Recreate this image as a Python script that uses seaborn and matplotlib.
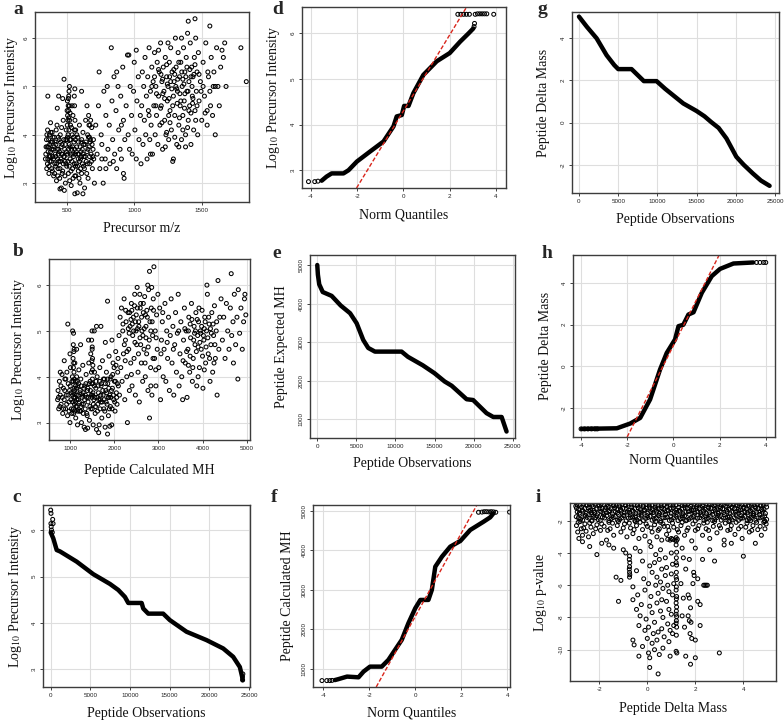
import matplotlib
matplotlib.use("Agg")
import pandas as pd
from matplotlib import pyplot as plt
import seaborn as sns

# ---------------- data ----------------
# a: precursor m/z vs log10 precursor intensity
a_points = [
    (345, 3.6), (350, 3.9), (352, 3.3), (358, 4.1), (360, 3.5), (365, 3.75), (368, 3.2), (372, 4.0), (375, 3.45),
    (380, 3.65), (383, 3.85), (388, 3.3), (392, 4.05), (395, 3.55), (400, 3.7), (403, 3.15), (408, 3.95), (412, 3.4),
    (415, 3.6), (420, 3.8), (424, 3.05), (428, 4.2), (432, 3.5), (436, 3.3), (440, 3.7), (444, 3.9), (448, 3.1),
    (452, 4.0), (455, 3.45), (460, 2.9), (462, 3.6), (466, 3.8), (470, 3.25), (474, 4.3), (478, 3.55), (482, 2.85),
    (485, 3.7), (490, 3.0), (493, 3.9), (496, 4.1), (500, 3.35), (503, 4.5), (505, 4.7), (507, 3.6), (510, 4.0),
    (512, 3.2), (515, 4.35), (518, 3.8), (520, 4.6), (522, 3.05), (525, 3.5), (528, 4.2), (530, 3.9), (533, 2.95),
    (536, 3.7), (540, 4.0), (543, 3.3), (546, 4.4), (550, 3.55), (553, 3.85), (556, 4.8), (560, 3.15), (563, 3.6),
    (566, 4.1), (570, 3.4), (574, 3.75), (578, 2.8), (582, 3.95), (586, 3.25), (590, 3.6), (594, 4.2), (598, 3.0),
    (602, 3.5), (606, 3.85), (610, 3.2), (615, 3.7), (620, 4.05), (624, 3.35), (628, 3.55), (632, 2.9), (636, 3.8),
    (640, 4.3), (645, 3.45), (650, 3.65), (655, 4.0), (658, 3.1), (662, 4.4), (666, 3.75), (670, 3.4), (675, 3.9),
    (680, 3.6), (685, 4.15), (690, 3.3), (695, 3.7), (700, 3.5),
    (342, 3.5), (347, 3.75), (353, 4.0), (357, 3.4), (362, 3.65), (366, 3.9), (370, 3.35), (374, 3.8), (378, 3.55),
    (382, 4.05), (386, 3.45), (390, 3.7), (394, 3.25), (398, 3.95), (402, 3.5), (406, 3.75), (410, 3.2), (414, 3.85),
    (418, 3.55), (422, 4.1), (426, 3.4), (430, 3.7), (434, 3.15), (438, 3.95), (442, 3.45), (446, 3.65), (450, 3.3),
    (454, 3.85), (458, 3.5), (462, 4.15), (466, 3.2), (470, 3.6), (474, 3.4), (478, 3.9), (482, 3.55), (486, 3.15),
    (490, 3.8), (494, 3.4), (498, 3.65), (502, 3.9), (504, 4.2), (506, 4.4), (508, 3.45), (511, 4.6), (513, 3.7),
    (516, 4.1), (519, 3.35), (521, 4.3), (524, 3.9), (527, 3.6), (531, 3.25), (535, 4.15), (539, 3.45), (543, 3.75),
    (547, 3.1), (551, 3.95), (555, 3.4), (559, 3.7), (563, 3.9), (567, 3.15), (571, 3.65), (575, 4.0), (579, 3.35),
    (583, 3.6), (587, 3.85), (591, 3.1), (595, 3.45), (599, 3.75), (603, 3.3), (607, 3.55), (611, 3.9), (616, 3.4),
    (621, 3.6), (626, 3.8), (631, 3.3), (637, 3.55), (643, 3.85), (648, 3.2), (653, 3.4), (657, 3.7), (661, 3.95),
    (665, 4.2), (669, 3.55), (673, 3.85), (677, 4.3), (683, 3.45), (688, 3.8), (693, 3.55), (698, 3.9),
    (509, 4.3), (512, 4.75), (514, 4.5), (517, 4.9), (558, 4.6), (561, 4.3), (557, 4.1),
    (480, 5.15), (430, 4.55), (520, 5.0), (560, 4.95), (610, 4.9), (470, 4.75), (650, 4.6), (620, 2.78),
    (560, 2.78), (450, 2.88), (440, 4.8), (360, 4.8), (380, 4.25), (355, 3.75), (372, 3.55), (395, 3.85),
    (418, 3.35), (438, 3.6), (458, 3.75), (488, 3.45), (505, 3.95), (525, 3.75), (545, 3.6), (565, 3.35),
    (585, 3.5), (605, 3.65), (525, 4.45), (540, 4.6), (515, 4.8), (672, 4.2), (668, 3.95),
    (705, 3.0), (715, 4.2), (725, 3.6), (735, 4.6), (740, 5.3), (745, 3.3), (755, 4.0), (760, 3.8), (770, 3.0),
    (775, 4.9), (785, 3.5), (790, 4.4), (800, 5.0), (805, 3.7), (815, 4.2), (820, 3.4), (830, 5.8), (835, 4.7),
    (840, 3.9), (850, 5.2), (855, 3.6), (865, 4.5), (870, 3.3), (880, 5.0), (885, 4.1), (895, 3.7), (900, 4.8),
    (905, 3.5), (915, 5.4), (920, 4.3), (925, 3.1), (930, 3.9), (940, 4.6), (950, 5.65), (955, 4.0), (965, 3.7),
    (970, 5.0), (980, 4.4), (985, 3.6), (995, 4.9), (1000, 5.5), (1005, 4.1), (1015, 3.5), (1020, 4.7),
    (1030, 5.2), (1035, 3.9), (1045, 4.4), (1050, 3.4), (920, 3.2), (960, 5.65), (1015, 5.75), (870, 5.3),
    (760, 3.5), (790, 3.3), (845, 3.45), (905, 4.2),
    (1055, 4.6), (1060, 5.3), (1065, 3.8), (1070, 5.0), (1075, 4.3), (1080, 5.6), (1085, 4.0), (1090, 4.8),
    (1095, 3.5), (1100, 5.2), (1105, 4.5), (1110, 5.8), (1115, 3.9), (1120, 4.9), (1125, 4.2), (1130, 5.4),
    (1135, 3.6), (1140, 5.1), (1145, 4.6), (1150, 5.7), (1155, 4.0), (1160, 5.0), (1165, 4.4), (1170, 5.5),
    (1175, 3.8), (1180, 4.8), (1185, 5.3), (1190, 4.2), (1195, 5.9), (1200, 4.6), (1205, 5.1), (1210, 3.7),
    (1215, 5.4), (1220, 4.9), (1225, 4.3), (1230, 5.6), (1235, 4.0), (1240, 5.2), (1245, 4.7), (1250, 5.0),
    (1255, 3.9), (1260, 5.5), (1265, 4.5), (1270, 5.8), (1275, 4.1), (1280, 5.3), (1285, 3.45), (1290, 4.8),
    (1295, 5.1), (1300, 4.4), (1305, 6.0), (1310, 5.4), (1315, 3.8), (1320, 4.9), (1325, 5.7), (1330, 4.2),
    (1335, 5.2), (1340, 4.6), (1345, 5.5), (1350, 3.9), (1355, 5.0), (1360, 4.4), (1365, 5.8), (1370, 4.7),
    (1375, 5.3), (1380, 4.0), (1385, 5.6), (1390, 4.9), (1395, 6.1), (1400, 4.3), (1405, 5.1), (1410, 4.6),
    (1415, 5.9), (1420, 3.8), (1425, 5.4), (1430, 4.8), (1435, 5.2), (1440, 4.1), (1445, 5.6), (1450, 4.5),
    (1455, 6.0), (1460, 4.9), (1465, 5.3), (1470, 4.0), (1475, 5.7), (1480, 4.7), (1490, 5.1), (1500, 4.3),
    (1510, 5.5), (1520, 4.8), (1530, 5.9), (1540, 4.5), (1550, 5.2), (1560, 4.9), (1570, 5.6), (1580, 4.4),
    (1590, 5.3), (1600, 4.0), (1610, 5.8), (1620, 5.0), (1630, 4.6), (1640, 5.4), (1650, 5.75), (1660, 5.6),
    (1680, 5.0), (1670, 5.9), (1450, 6.4), (1400, 6.35), (1560, 6.25), (1790, 5.8), (1830, 5.1), (1250, 5.9),
    (1350, 6.0), (1180, 5.75), (1120, 3.6), (1290, 3.5), (1230, 3.75), (1380, 3.75), (1330, 3.75), (1600, 5.0),
    (1540, 4.2), (1245, 5.05), (1262, 5.2), (1278, 4.95), (1293, 5.35), (1308, 5.0), (1322, 5.15), (1338, 4.85),
    (1352, 5.3), (1368, 5.05), (1382, 5.2), (1398, 4.9), (1412, 5.35), (1428, 5.0), (1442, 5.25), (1258, 4.75),
    (1318, 4.65), (1372, 4.55), (1432, 4.65), (1212, 4.85), (1198, 5.25),
    (1150, 5.2), (1165, 4.85), (1180, 5.35), (1195, 4.55), (1210, 5.15), (1225, 4.75), (1240, 5.45), (1255, 4.4),
    (1270, 5.1), (1285, 4.6), (1300, 5.25), (1315, 4.95), (1330, 5.5), (1345, 4.7), (1360, 5.15), (1375, 4.85),
    (1390, 5.4), (1405, 4.5), (1420, 5.2), (1435, 4.75), (1450, 5.45), (1465, 4.6), (1480, 5.25), (1495, 4.9),
    (1510, 5.0), (1525, 4.45), (1545, 5.3), (1565, 4.6), (1585, 5.0), (1205, 4.25), (1265, 4.25), (1335, 4.35),
    (1395, 4.15), (1455, 4.3), (1300, 3.95), (1360, 4.1), (1240, 4.05), (1420, 4.45), (1160, 4.6), (1110, 4.4),
    (1130, 5.0),
]

# b: peptide calculated MH vs log10 precursor intensity
b_points = [
    (720, 3.5), (730, 3.7), (745, 3.3), (760, 3.9), (780, 3.6), (800, 3.4), (820, 4.05), (835, 3.2), (850, 3.75),
    (870, 3.5), (885, 3.95), (900, 3.3), (915, 3.6), (930, 4.1), (945, 3.15), (960, 3.85), (975, 3.45), (990, 3.7),
    (1000, 3.0), (1010, 4.2), (1020, 3.5), (1030, 3.3), (1045, 3.9), (1060, 3.6), (1070, 4.4), (1075, 4.7),
    (1080, 4.95), (1085, 3.2), (1090, 4.1), (1095, 3.75), (1100, 3.4), (1110, 4.3), (1120, 3.9), (1130, 3.1),
    (1140, 3.6), (1150, 4.0), (1160, 3.35), (1170, 2.95), (1180, 3.8), (1190, 3.5), (1200, 4.15), (1215, 3.25),
    (1230, 3.7), (1245, 3.95), (1260, 3.0), (1275, 3.55), (1290, 4.25), (1305, 3.4), (1320, 2.9), (1335, 3.8),
    (1350, 3.6), (1365, 4.05), (1380, 3.2), (1395, 3.7), (1410, 3.45), (1425, 4.3), (1440, 3.05), (1455, 3.9),
    (1470, 4.5), (1480, 3.6), (1490, 4.8), (1500, 5.0), (1505, 3.3), (1510, 4.4), (1515, 3.85), (1525, 2.95),
    (1540, 3.5), (1555, 4.1), (1570, 3.2), (1585, 3.75), (1600, 2.85), (1615, 4.0), (1630, 3.4), (1645, 3.65),
    (1660, 2.95), (1675, 4.2), (1690, 3.5), (1705, 3.8), (1720, 3.1), (1735, 4.35), (1750, 3.6), (1765, 3.3),
    (1780, 3.95), (1795, 2.9), (1810, 3.7), (1825, 4.1), (1840, 3.4), (1855, 3.85), (1870, 3.15), (1885, 4.45),
    (1900, 3.6), (1915, 3.35), (1930, 4.0), (1945, 2.95), (1960, 3.75), (1975, 4.3), (1990, 3.5), (2005, 3.9),
    (2020, 3.25), (2035, 4.55), (2050, 3.65), (2065, 3.4), (2080, 4.1), (2095, 3.8),
    (740, 3.55), (770, 3.35), (795, 3.8), (825, 3.55), (855, 3.3), (880, 3.7), (905, 3.95), (925, 3.4), (955, 3.6),
    (980, 3.25), (1005, 3.8), (1025, 3.65), (1040, 3.2), (1055, 4.0), (1065, 3.45), (1072, 3.9), (1078, 3.3),
    (1083, 4.3), (1088, 3.65), (1093, 4.6), (1098, 3.95), (1105, 3.25), (1115, 3.55), (1125, 3.8), (1135, 3.35),
    (1145, 3.75), (1155, 3.5), (1165, 3.9), (1175, 3.25), (1185, 3.6), (1195, 3.85), (1210, 3.45), (1225, 3.65),
    (1240, 3.25), (1255, 3.8), (1270, 3.4), (1285, 3.6), (1300, 3.2), (1315, 3.75), (1330, 3.5), (1345, 3.3),
    (1360, 3.85), (1375, 3.55), (1390, 3.15), (1405, 3.75), (1420, 3.55), (1435, 3.85), (1450, 3.35), (1462, 3.7),
    (1475, 3.3), (1485, 4.1), (1493, 3.85), (1497, 4.35), (1503, 4.65), (1507, 3.95), (1512, 3.6), (1518, 4.25),
    (1530, 3.4), (1548, 3.8), (1562, 3.55), (1578, 3.35), (1592, 3.9), (1608, 3.55), (1622, 3.25), (1638, 3.8),
    (1652, 3.5), (1668, 3.9), (1682, 3.3), (1698, 3.6), (1712, 3.85), (1728, 3.45), (1742, 3.7), (1758, 3.95),
    (1772, 3.5), (1788, 3.25), (1802, 3.85), (1818, 3.45), (1832, 3.65), (1848, 3.95), (1862, 3.55), (1878, 3.75),
    (1892, 3.3), (1908, 3.95), (1922, 3.55), (1938, 3.7), (1952, 3.3), (1968, 4.05), (1982, 3.6), (1998, 4.2),
    (2012, 3.45), (2028, 3.9), (2042, 4.25), (2058, 3.55), (2072, 3.85), (2088, 4.4),
    (950, 5.15), (1600, 5.1), (1700, 5.1), (1850, 5.65), (1650, 2.78), (1850, 2.75), (1900, 2.92), (1350, 2.85),
    (1400, 2.88), (1060, 5.0), (1240, 4.7), (1150, 4.6), (1420, 4.8), (1800, 4.75), (1950, 4.8), (1550, 5.0),
    (1000, 4.5), (870, 4.35), (780, 4.1), (1085, 3.55), (1105, 3.7), (1125, 3.45), (1495, 3.55), (1520, 3.65),
    (1078, 4.2), (1088, 4.55), (1502, 4.6), (1508, 4.15), (1250, 3.35), (1300, 3.65), (1700, 3.45), (1880, 3.55),
    (2110, 4.9), (2120, 3.6), (2135, 5.3), (2150, 4.2), (2165, 5.5), (2180, 3.9), (2195, 5.0), (2210, 4.5),
    (2225, 5.7), (2240, 3.5), (2255, 4.8), (2270, 5.2), (2285, 4.0), (2300, 3.0), (2315, 5.4), (2330, 4.6),
    (2345, 3.7), (2360, 5.1), (2375, 4.3), (2390, 5.6), (2405, 3.8), (2420, 4.9), (2435, 5.3), (2450, 4.4),
    (2465, 5.8), (2480, 3.6), (2495, 5.0), (2510, 4.7), (2525, 5.5), (2540, 4.1), (2555, 5.2), (2570, 3.45),
    (2585, 4.85), (2600, 5.6), (2615, 4.3), (2630, 5.0), (2645, 3.9), (2660, 5.4), (2675, 4.6), (2690, 5.75),
    (2705, 4.0), (2720, 5.1), (2735, 4.5), (2750, 5.3), (2765, 3.7), (2780, 5.9), (2795, 4.8), (2800, 3.1),
    (2810, 5.2), (2825, 4.2), (2840, 5.5), (2855, 3.6), (2870, 4.9), (2885, 5.7), (2900, 6.4), (2800, 6.3),
    (2915, 4.4), (2930, 5.0), (2945, 3.8), (2960, 5.35), (2975, 4.6), (2990, 5.8), (2760, 6.0), (2850, 5.95),
    (2520, 5.95), (2580, 5.8), (2320, 5.05), (2380, 5.25), (2440, 5.0), (2500, 5.35), (2560, 5.1), (2620, 5.3),
    (2680, 5.05), (2740, 5.45), (2860, 5.2), (2400, 5.45), (2480, 5.2), (2660, 5.6),
    (2200, 5.15), (2230, 4.7), (2260, 5.45), (2290, 4.55), (2350, 5.4), (2410, 5.15), (2470, 4.75), (2530, 5.05),
    (2590, 5.5), (2650, 4.9), (2710, 5.35), (2770, 4.65), (2830, 5.0), (2890, 5.45), (2950, 4.85), (2340, 4.95),
    (2460, 5.55), (2600, 4.7), (2720, 4.85), (2880, 4.4), (2250, 4.35), (2390, 4.05), (2550, 4.5), (2700, 4.3),
    (2830, 3.8), (2940, 4.15),
    (3010, 4.2), (3030, 5.5), (3050, 3.5), (3070, 4.8), (3090, 5.2), (3110, 4.0), (3130, 4.6), (3150, 5.6),
    (3170, 3.9), (3190, 5.0), (3210, 4.4), (3230, 5.3), (3250, 3.7), (3270, 4.9), (3290, 5.7), (3310, 4.3),
    (3330, 5.1), (3350, 3.6), (3370, 4.7), (3390, 5.4), (3410, 4.1), (3430, 4.95), (3450, 5.8), (3470, 3.8),
    (3490, 4.5), (3510, 5.2), (3530, 4.0), (3550, 3.5), (3570, 4.8), (3590, 5.5), (3610, 4.3), (3630, 5.0),
    (3650, 3.55), (3670, 4.6), (3690, 5.3), (3710, 4.1), (3730, 4.85), (3750, 5.6), (3770, 3.9), (3790, 4.4),
    (3810, 5.1), (3830, 4.7), (3850, 5.4), (3870, 3.8), (3890, 4.9), (3910, 5.2), (3930, 4.2), (3950, 5.0),
    (3970, 4.6), (3990, 5.45), (4010, 3.75), (4030, 4.8), (4050, 5.3), (4070, 4.3), (4090, 5.0), (4110, 5.8),
    (4130, 4.5), (4150, 5.15), (4170, 3.9), (4190, 4.7), (4210, 5.4), (4230, 4.1), (4250, 4.9), (4270, 5.55),
    (4290, 4.4), (4310, 5.0), (4330, 3.6), (4350, 6.1), (4100, 6.0), (4370, 4.6), (4390, 5.3),
    (3820, 4.95), (3880, 5.25), (3940, 4.75), (3980, 5.1), (4020, 4.9), (4060, 5.2), (4120, 4.85), (4180, 5.05),
    (3860, 4.55), (4000, 4.45), (3720, 5.15), (3920, 5.5),
    (3600, 5.05), (3640, 4.55), (3680, 5.0), (3720, 4.45), (3760, 5.25), (3800, 4.8), (3840, 5.0), (3900, 4.65),
    (3960, 4.95), (4040, 5.05), (4080, 4.65), (4140, 5.3), (4200, 4.95), (4240, 5.15), (4280, 4.7), (4320, 5.2),
    (3780, 4.2), (3900, 4.0), (4040, 4.15), (4160, 4.4), (4260, 4.3), (3680, 4.25), (3560, 4.35), (3460, 5.0),
    (3340, 4.6), (3200, 4.75), (3100, 5.4), (3060, 4.5),
    (4420, 5.7), (4450, 4.8), (4480, 5.3), (4510, 4.4), (4540, 5.6), (4570, 5.0), (4600, 4.6), (4630, 5.5),
    (4650, 6.25), (4660, 4.9), (4690, 5.2), (4700, 4.3), (4720, 5.8), (4750, 4.7), (4780, 5.3), (4800, 3.95),
    (4810, 5.9), (4840, 4.95), (4870, 5.5), (4900, 4.6), (4930, 5.2), (4950, 5.7), (4960, 5.8), (4980, 5.35),
]

# c: sorted log10 precursor intensity vs observation index
c_obs = [0, 330, 756, 1176, 3276, 5370, 7470, 8520, 9360, 9780, 11470, 11670, 12300, 14180, 15030,
         17130, 19650, 21750, 23010, 23850, 24140, 24200]
c_int = [5.95, 5.82, 5.57, 5.54, 5.32, 5.05, 4.84, 4.71, 4.56, 4.43, 4.43, 4.31, 4.2, 4.2, 4.06,
         3.81, 3.63, 3.45, 3.27, 3.05, 2.84, 2.77]
c_end_obs = [0, 40, 250, 30, 60, 300, 100, 200, 24200, 24230, 24180]
c_end_int = [6.43, 6.36, 6.23, 6.14, 6.07, 6.14, 6.0, 5.95, 2.77, 2.9, 2.84]

# d: QQ of log10 precursor intensity
d_q = [-3.53, -3.32, -3.1, -2.59, -2.37, -2.01, -1.44, -0.86, -0.43, -0.29, -0.07, 0.03, 0.22, 0.43,
       0.86, 1.44, 2.0, 2.45, 2.81, 3.02]
d_val = [2.77, 2.86, 2.93, 2.93, 3.0, 3.19, 3.41, 3.63, 3.96, 4.18, 4.21, 4.41, 4.41, 4.69,
         5.09, 5.39, 5.57, 5.82, 6.0, 6.11]
d_end_q = [-4.1, -3.83, -3.69, 3.07, 3.05, 2.35, 2.48, 2.6, 2.72, 2.85, 3.1, 3.2, 3.3, 3.4, 3.5, 3.6, 3.9]
d_end_val = [2.75, 2.75, 2.76, 6.22, 6.15, 6.42, 6.42, 6.42, 6.42, 6.42, 6.42, 6.43, 6.43, 6.43, 6.43, 6.43, 6.42]
d_line = [4.3, 0.835]  # intercept, slope

# e: sorted peptide expected MH vs observation index
e_obs = [0, 80, 250, 700, 1840, 3000, 4200, 5040, 5880, 6520, 7380, 10790, 11600, 13500, 15000,
         16300, 17200, 19110, 19940, 21660, 22520, 23590, 24220]
e_mh = [5000, 4750, 4500, 4300, 4200, 3950, 3750, 3490, 3058, 2850, 2755, 2755, 2620, 2400, 2195,
        1980, 1870, 1520, 1500, 1159, 1060, 1060, 683]

# f: QQ of peptide calculated MH
f_q = [-3.5, -3.35, -2.97, -2.47, -2.25, -1.97, -1.46, -1.17, -0.88, -0.59, -0.3, 0.0, 0.22, 0.57,
       0.72, 0.87, 1.16, 1.52, 1.96, 2.39, 2.97, 3.26, 3.4]
f_val = [720, 743, 808, 790, 935, 1060, 1060, 1230, 1483, 1735, 2157, 2536, 2745, 2745,
         3000, 3586, 3839, 4091, 4235, 4513, 4722, 4833, 4934]
f_end_q = [-4.06, -3.85, -3.72, -3.62, 2.75, 2.9, 3.0, 3.1, 3.2, 3.3, 3.4, 3.5, 4.1]
f_end_val = [707, 707, 707, 712, 4960, 4965, 4975, 4975, 4970, 4975, 4970, 4960, 4965]
f_line = [2330, 1050]

# g: sorted peptide delta mass vs observation index
g_obs = [0, 1000, 2250, 3520, 4500, 5000, 6700, 7500, 8270, 9890, 11000, 12000, 13300, 15000, 16000,
         16880, 17800, 18800, 20060, 21000, 22160, 23200, 24300]
g_delta = [5.03, 4.55, 4.0, 3.2, 2.73, 2.54, 2.54, 2.25, 1.97, 1.97, 1.6, 1.3, 0.91, 0.55, 0.3,
           0.02, -0.25, -0.75, -1.62, -2.0, -2.41, -2.75, -3.0]

# h: QQ of peptide delta mass
h_q = [-3.97, -2.45, -1.87, -1.44, -1.01, -0.58, -0.29, 0.07, 0.22, 0.43, 0.65, 0.87, 1.23, 1.66,
       2.02, 2.6, 3.46]
h_val = [-3.02, -2.99, -2.76, -2.49, -1.6, -0.16, 0.64, 1.29, 1.93, 2.0, 2.49, 2.6, 3.54, 4.34,
         4.69, 4.95, 5.0]
h_end_q = [-4.0, -3.85, -3.7, -3.55, -3.4, -3.3, 3.6, 3.75, 3.9, 4.0]
h_end_val = [-3.02, -3.02, -3.02, -3.02, -3.02, -3.02, 5.0, 5.0, 5.0, 5.0]
h_line = [1.0, 2.2]

# i: peptide delta mass vs log10 p-value
i_points = [
    (-2.93, -0.98), (-2.8, -1.02), (-2.67, -0.97), (-2.55, -1.01), (-2.42, -0.96), (-2.3, -1.03), (-2.17, -0.98),
    (-2.05, -1.0), (-1.92, -0.97), (-1.8, -1.02), (-1.67, -0.99), (-1.55, -0.96), (-1.42, -1.01), (-1.3, -0.98),
    (-1.17, -1.03), (-1.05, -0.97), (-0.92, -1.0), (-0.8, -0.96), (-0.67, -1.02), (-0.55, -0.98), (-0.42, -1.01),
    (-0.3, -0.97), (-0.17, -1.03), (-0.05, -0.99), (0.08, -0.96), (0.2, -1.01), (0.33, -0.98), (0.45, -1.02),
    (0.58, -0.97), (0.7, -1.0), (0.83, -0.96), (0.95, -1.03), (1.08, -0.98), (1.2, -1.01), (1.33, -0.97),
    (1.45, -1.02), (1.58, -0.99), (1.7, -0.96), (1.83, -1.01), (1.95, -0.98), (2.08, -1.03), (2.2, -0.97),
    (2.33, -1.0), (2.45, -0.96), (2.58, -1.02), (2.7, -0.98), (2.83, -1.01), (2.95, -0.97), (3.08, -1.03),
    (3.2, -0.99), (3.33, -0.96), (3.45, -1.01), (3.58, -0.98), (3.7, -1.02), (3.83, -0.97), (3.95, -1.0),
    (4.08, -0.96), (4.2, -1.03), (4.33, -0.98), (4.45, -1.01), (4.58, -0.97), (4.7, -1.02), (4.83, -0.99),
    (4.95, -0.97),
    (-2.98, -1.1), (-2.86, -1.3), (-2.74, -1.15), (-2.61, -1.25), (-2.5, -1.05), (-2.37, -1.35), (-2.25, -1.12),
    (-2.13, -1.28), (-2.0, -1.08), (-1.88, -1.22), (-1.76, -1.33), (-1.63, -1.1), (-1.51, -1.27), (-1.39, -1.06),
    (-1.27, -1.3), (-1.14, -1.14), (-1.02, -1.24), (-0.9, -1.07), (-0.78, -1.34), (-0.65, -1.16), (-0.53, -1.26),
    (-0.41, -1.05), (-0.29, -1.31), (-0.16, -1.13), (-0.04, -1.23), (0.08, -1.09), (0.2, -1.32), (0.33, -1.15),
    (0.45, -1.27), (0.57, -1.06), (0.69, -1.3), (0.82, -1.12), (0.94, -1.25), (1.06, -1.08), (1.18, -1.33),
    (1.31, -1.17), (1.43, -1.28), (1.55, -1.05), (1.67, -1.24), (1.8, -1.11), (1.92, -1.34), (2.04, -1.13),
    (2.16, -1.26), (2.29, -1.07), (2.41, -1.29), (2.53, -1.15), (2.65, -1.23), (2.78, -1.06), (2.9, -1.32),
    (3.02, -1.12), (3.14, -1.27), (3.27, -1.09), (3.39, -1.3), (3.51, -1.14), (3.63, -1.25), (3.76, -1.06),
    (3.88, -1.33), (4.0, -1.16), (4.12, -1.28), (4.25, -1.08), (4.37, -1.31), (4.49, -1.13), (4.61, -1.24),
    (4.74, -1.07), (4.86, -1.29), (4.97, -1.15),
    (-2.95, -1.22), (-2.83, -1.52), (-2.71, -1.33), (-2.58, -1.66), (-2.46, -1.21), (-2.34, -1.49), (-2.22, -1.36),
    (-2.1, -1.69), (-1.97, -1.25), (-1.85, -1.5), (-1.73, -1.18), (-1.6, -1.43), (-1.48, -1.71), (-1.36, -1.2),
    (-1.24, -1.51), (-1.11, -1.3), (-0.99, -1.67), (-0.87, -1.24), (-0.74, -1.49), (-0.62, -1.35), (-0.5, -1.7),
    (-0.38, -1.19), (-0.26, -1.46), (-0.13, -1.32), (-0.01, -1.68), (0.11, -1.22), (0.24, -1.5), (0.36, -1.29),
    (0.48, -1.66), (0.6, -1.2), (0.73, -1.45), (0.85, -1.33), (0.97, -1.71), (1.09, -1.21), (1.22, -1.48),
    (1.34, -1.35), (1.46, -1.69), (1.58, -1.18), (1.71, -1.44), (1.83, -1.31), (1.95, -1.66), (2.07, -1.23),
    (2.2, -1.5), (2.32, -1.34), (2.44, -1.7), (2.56, -1.2), (2.69, -1.46), (2.81, -1.29), (2.93, -1.67),
    (3.05, -1.22), (3.18, -1.49), (3.3, -1.33), (3.42, -1.71), (3.54, -1.19), (3.67, -1.45), (3.79, -1.3),
    (3.91, -1.68), (4.03, -1.23), (4.16, -1.51), (4.28, -1.36), (4.4, -1.66), (4.52, -1.2), (4.65, -1.46),
    (4.77, -1.31), (4.89, -1.7),
    (-2.92, -1.45), (-2.8, -1.6), (-2.68, -1.4), (-2.55, -1.55), (-2.43, -1.38), (-2.31, -1.62), (-2.19, -1.47),
    (-2.06, -1.57), (-1.94, -1.42), (-1.82, -1.63), (-1.7, -1.5), (-1.57, -1.37), (-1.45, -1.58), (-1.33, -1.44),
    (-1.2, -1.61), (-1.08, -1.39), (-0.96, -1.52), (-0.84, -1.46), (-0.71, -1.64), (-0.59, -1.41), (-0.47, -1.56),
    (-0.35, -1.48), (-0.22, -1.6), (-0.1, -1.36), (0.02, -1.53), (0.14, -1.43), (0.27, -1.63), (0.39, -1.4),
    (0.51, -1.55), (0.63, -1.47), (0.76, -1.61), (0.88, -1.38), (1.0, -1.54), (1.12, -1.45), (1.25, -1.62),
    (1.37, -1.41), (1.49, -1.57), (1.61, -1.46), (1.74, -1.6), (1.86, -1.37), (1.98, -1.52), (2.1, -1.44),
    (2.23, -1.63), (2.35, -1.4), (2.47, -1.56), (2.59, -1.48), (2.72, -1.61), (2.84, -1.39), (2.96, -1.54),
    (3.08, -1.45), (3.21, -1.62), (3.33, -1.42), (3.45, -1.57), (3.57, -1.47), (3.7, -1.6), (3.82, -1.38),
    (3.94, -1.53), (4.06, -1.44), (4.19, -1.63), (4.31, -1.41), (4.43, -1.56), (4.55, -1.48), (4.68, -1.61),
    (4.8, -1.4), (4.92, -1.55),
    (-2.96, -1.75), (-2.78, -1.9), (-2.6, -1.7), (-2.42, -1.85), (-2.24, -1.72), (-2.05, -1.93), (-1.87, -1.78),
    (-1.69, -1.68), (-1.51, -1.88), (-1.33, -1.74), (-1.15, -1.92), (-0.97, -1.7), (-0.79, -1.84), (-0.61, -1.76),
    (-0.43, -1.95), (-0.25, -1.71), (-0.07, -1.86), (0.11, -1.73), (0.29, -1.9), (0.47, -1.69), (0.65, -1.83),
    (0.83, -1.77), (1.01, -1.94), (1.19, -1.72), (1.37, -1.87), (1.55, -1.7), (1.73, -1.91), (1.91, -1.75),
    (2.09, -1.85), (2.27, -1.68), (2.45, -1.89), (2.63, -1.74), (2.81, -1.93), (2.99, -1.71), (3.17, -1.84),
    (3.35, -1.77), (3.53, -1.95), (3.71, -1.7), (3.89, -1.86), (4.07, -1.73), (4.25, -1.9), (4.43, -1.69),
    (4.61, -1.83), (4.79, -1.76), (4.97, -1.92),
    (-2.87, -1.82), (-2.69, -1.97), (-2.51, -1.79), (-2.33, -2.0), (-2.15, -1.81), (-1.96, -1.98), (-1.78, -1.83),
    (-1.6, -1.99), (-1.42, -1.8), (-1.24, -1.97), (-1.06, -1.82), (-0.88, -2.0), (-0.7, -1.81), (-0.52, -1.98),
    (-0.34, -1.83), (-0.16, -1.99), (0.02, -1.8), (0.2, -1.97), (0.38, -1.82), (0.56, -2.0), (0.74, -1.81),
    (0.92, -1.98), (1.1, -1.83), (1.28, -1.99), (1.46, -1.8), (1.64, -1.97), (1.82, -1.82), (2.0, -2.0),
    (2.18, -1.81), (2.36, -1.98), (2.54, -1.83), (2.72, -1.99), (2.9, -1.8), (3.08, -1.97), (3.26, -1.82),
    (3.44, -2.0), (3.62, -1.81), (3.8, -1.98), (3.98, -1.83), (4.16, -1.99), (4.34, -1.8), (4.52, -1.97),
    (4.7, -1.82), (4.88, -2.0),
    (-2.88, -2.1), (-2.65, -2.45), (-2.4, -2.15), (-2.15, -2.5), (-1.9, -2.2), (-1.65, -2.6), (-1.45, -2.15),
    (-1.2, -2.05), (-1.0, -2.45), (-0.75, -2.15), (-0.55, -2.55), (-0.3, -2.1), (-0.05, -2.2), (0.15, -2.45),
    (0.35, -2.05), (0.45, -2.6), (0.65, -2.2), (0.85, -2.35), (1.05, -2.15), (1.25, -2.55), (1.45, -2.1),
    (1.65, -2.6), (1.9, -2.2), (2.1, -2.5), (2.35, -2.15), (2.55, -2.6), (2.8, -2.05), (3.0, -2.3), (3.25, -2.15),
    (3.45, -2.55), (3.7, -2.1), (3.9, -2.35), (4.15, -2.15), (4.35, -2.6), (4.55, -2.1), (4.7, -2.35), (4.9, -2.05),
    (-2.95, -2.3), (-2.9, -2.7), (-2.85, -3.1), (-2.75, -2.5), (-2.7, -2.9), (-2.6, -2.2), (-2.55, -2.65),
    (-2.45, -3.0), (-2.35, -2.4), (-2.25, -2.8), (-2.1, -2.25), (-1.95, -2.6), (-1.8, -2.35), (-1.7, -3.2),
    (-1.55, -2.5), (-1.4, -2.9), (-1.25, -2.3), (-1.1, -2.7), (-0.95, -2.2), (-0.85, -3.0), (-0.7, -2.45),
    (-0.6, -2.8), (-0.45, -2.3), (-0.35, -3.1), (-0.2, -2.55), (-0.1, -2.95), (0.0, -2.35), (0.1, -3.3),
    (0.2, -2.7), (0.3, -2.25), (0.4, -3.0), (0.5, -2.5), (0.6, -3.2), (0.7, -2.35), (0.8, -2.85), (0.9, -2.6),
    (1.0, -3.1), (1.1, -2.4), (1.2, -3.05), (1.3, -2.7), (1.4, -2.3), (1.55, -2.9), (1.7, -2.45), (1.85, -3.25),
    (2.0, -2.6), (2.15, -2.3), (2.3, -2.9), (2.45, -2.5), (2.6, -3.1), (2.75, -2.35), (2.9, -2.75), (3.05, -2.45),
    (3.2, -3.2), (3.35, -2.6), (3.5, -2.3), (3.65, -2.85), (3.8, -2.5), (3.95, -3.1), (4.1, -2.4), (4.25, -2.7),
    (4.4, -2.3), (4.6, -2.55), (4.75, -2.9), (4.9, -2.5), (4.95, -2.2), (-2.8, -2.05), (-2.3, -2.0), (-1.6, -2.1),
    (-0.5, -2.05), (0.55, -2.1), (1.6, -2.0), (2.5, -2.1), (3.4, -2.05), (4.3, -2.0), (4.85, -2.1),
    (1.21, -3.25), (1.2, -3.5), (1.22, -3.95), (1.21, -4.3), (1.2, -4.6), (1.22, -4.75), (1.21, -5.2), (1.2, -5.5),
    (1.22, -5.65), (1.21, -6.1), (1.2, -6.3), (1.22, -6.7), (1.21, -6.85), (1.2, -7.1), (1.22, -7.35),
    (1.21, -7.6), (1.2, -7.8), (1.22, -7.95), (1.21, -8.2), (1.2, -8.35), (1.22, -8.6), (1.21, -9.1),
    (1.2, -10.1), (1.23, -10.2), (0.85, -3.15), (0.95, -3.2), (1.05, -3.15), (1.15, -3.2), (1.25, -3.15),
    (-0.74, -4.19), (-0.75, -4.4), (-0.73, -4.6), (-0.74, -4.85), (-0.75, -5.0), (-0.74, -5.2), (-0.73, -5.35),
    (-0.74, -5.5), (1.93, -5.2), (1.95, -5.4), (1.9, -5.9), (1.7, -6.6), (1.75, -6.8), (1.8, -7.4), (1.7, -7.9),
    (1.75, -8.2), (1.82, -8.3), (1.78, -9.0), (1.85, -9.3),
    (-0.3, -3.9), (-0.2, -4.5), (-0.15, -5.6), (-0.1, -6.3), (-0.25, -7.2), (-0.3, -7.9), (-0.05, -8.1),
    (-0.1, -8.8), (0.0, -9.3), (-0.2, -9.8), (0.05, -10.2), (0.1, -10.5), (0.15, -3.6), (0.1, -4.8), (0.2, -5.2),
    (0.05, -5.9), (0.15, -6.7), (0.1, -7.3), (0.2, -7.7), (0.05, -8.6), (0.25, -9.0), (0.2, -9.6), (0.3, -10.0),
    (0.35, -4.1), (0.3, -4.6), (0.4, -5.5), (0.35, -6.0), (0.45, -6.5), (0.4, -7.1), (0.3, -8.3), (0.45, -8.9),
    (0.4, -9.4), (0.5, -10.3), (0.55, -3.8), (0.5, -4.4), (0.6, -5.0), (0.55, -5.8), (0.65, -6.2), (0.6, -6.9),
    (0.55, -7.6), (0.65, -8.0), (0.6, -8.7), (0.7, -9.2), (0.65, -9.9), (0.75, -4.3), (0.8, -4.9), (0.75, -5.4),
    (0.85, -6.0), (0.9, -6.4), (0.8, -7.0), (0.9, -7.5), (0.85, -8.4), (0.95, -8.8), (0.9, -9.5), (1.0, -4.0),
    (1.05, -4.7), (1.0, -5.3), (1.1, -5.9), (1.05, -6.6), (1.0, -7.8), (1.1, -8.5), (1.05, -9.0), (0.95, -10.4),
    (0.45, -11.5), (0.1, -11.1), (-0.35, -10.4), (-0.45, -5.1), (-0.4, -6.6), (-0.45, -7.5), (-0.35, -8.5),
    (-0.5, -3.7), (-2.1, -4.1), (-1.3, -5.5), (-1.1, -5.7), (-1.2, -7.0), (-0.6, -6.1), (-0.6, -6.9),
    (-0.6, -9.4), (-0.55, -9.7), (-1.6, -3.5), (-2.4, -3.6), (-1.9, -3.4), (-1.0, -3.8), (-0.9, -4.0),
    (1.45, -3.7), (1.5, -4.3), (1.6, -5.0), (1.4, -5.9), (1.5, -6.8), (1.45, -7.9), (1.55, -8.6), (1.6, -10.4),
    (1.8, -10.9), (2.0, -10.5), (2.0, -9.4), (2.2, -8.5), (2.1, -7.0), (2.2, -7.2), (2.35, -6.0), (2.4, -6.0),
    (2.45, -6.0), (2.5, -6.0), (2.3, -4.4), (2.8, -4.5), (3.0, -10.2), (4.0, -4.2), (4.5, -3.4), (3.5, -3.4),
    (2.6, -3.8), (2.0, -3.7), (1.75, -4.4), (2.1, -5.6), (3.2, -3.5), (-2.7, -3.3), (-1.4, -3.7),
]

# ---------------- drawing ----------------
sns.set_theme(style="white")
plt.rcParams["font.family"] = ["Liberation Serif", "DejaVu Serif"]
plt.rcParams["mathtext.fontset"] = "stix"

W, H = 784, 724
fig = plt.figure(figsize=(W / 100, H / 100), dpi=100)

LOG_INT = r"Log$_{10}$ Precursor Intensity"


def make_ax(box, letter, letter_xy):
    l, r, t, b = box
    ax = fig.add_axes([l / W, 1 - b / H, (r - l) / W, (b - t) / H])
    fig.text(letter_xy[0] / W, 1 - letter_xy[1] / H, letter, fontsize=14, fontweight="bold",
             ha="center", va="center")
    return ax


def style(ax, xlabel, ylabel, xlim, ylim, xticks, yticks, xpad, ypad):
    ax.set_xlim(xlim)
    ax.set_ylim(ylim)
    ax.set_xticks(xticks)
    ax.set_yticks(yticks)
    ax.set_xticklabels([str(v) for v in xticks], fontsize=4.5, family="Liberation Sans")
    ax.set_yticklabels([str(v) for v in yticks], fontsize=4.5, family="Liberation Sans",
                       rotation=90, va="center")
    ax.grid(True, color="#dedede", lw=0.8)
    ax.set_axisbelow(True)
    for s in ax.spines.values():
        s.set_color("#3c3c3c")
        s.set_linewidth(1.0)
    ax.tick_params(axis="both", direction="out", length=2.5, width=0.6, pad=2,
                   bottom=True, left=True, colors="#222222")
    ax.set_xlabel(xlabel, fontsize=10, labelpad=xpad, color="#111111")
    ax.set_ylabel(ylabel, fontsize=10, labelpad=ypad, color="#111111")


def dots(ax, x, y, s=8):
    sns.scatterplot(x=x, y=y, ax=ax, marker="o", s=s, facecolor="none",
                    edgecolor="black", linewidth=0.75, legend=False)


def curve(ax, x, y, lw=3.2):
    sns.lineplot(x=x, y=y, ax=ax, color="black", linewidth=lw, estimator=None,
                 sort=False, solid_capstyle="round", solid_joinstyle="round")


def qqline(ax, line):
    ax.axline((0, line[0]), slope=line[1], color="#d9261c", lw=1.0, ls=(0, (3, 1.5)))


# a
ax = make_ax((35, 249, 12, 202), "a", (18, 9))
df = pd.DataFrame(a_points, columns=["mz", "intensity"])
dots(ax, df["mz"], df["intensity"])
style(ax, "Precursor m/z", LOG_INT, (265, 1850), (2.61, 6.54), [500, 1000, 1500], [3, 4, 5, 6], 6, 2.5)

# b
ax = make_ax((49, 250, 259, 440), "b", (18, 252))
df = pd.DataFrame(b_points, columns=["mh", "intensity"])
dots(ax, df["mh"], df["intensity"])
style(ax, "Peptide Calculated MH", LOG_INT, (525, 5075), (2.62, 6.57), [1000, 2000, 3000, 4000, 5000],
      [3, 4, 5, 6], 9.5, 8)

# c
ax = make_ax((43, 250, 505, 687), "c", (17, 497))
curve(ax, c_obs, c_int)
dots(ax, c_end_obs, c_end_int)
style(ax, "Peptide Observations", LOG_INT, (-970, 25130), (2.62, 6.54),
      [0, 5000, 10000, 15000, 20000, 25000], [3, 4, 5, 6], 6, 5.3)

# d
ax = make_ax((302, 506, 7, 188), "d", (278, 9))
curve(ax, d_q, d_val)
dots(ax, d_end_q, d_end_val)
qqline(ax, d_line)
style(ax, "Norm Quantiles", LOG_INT, (-4.38, 4.43), (2.61, 6.58), [-4, -2, 0, 2, 4], [3, 4, 5, 6], 6.8, 6)

# e
ax = make_ax((310, 515, 255, 438), "e", (277, 253))
curve(ax, e_obs, e_mh)
style(ax, "Peptide Observations", "Peptide Expected MH", (-930, 25300), (515, 5260),
      [0, 5000, 10000, 15000, 20000, 25000], [1000, 2000, 3000, 4000, 5000], 5.3, 8)

# f
ax = make_ax((313, 510, 505, 687), "f", (274, 497))
curve(ax, f_q, f_val)
dots(ax, f_end_q, f_end_val)
qqline(ax, f_line)
style(ax, "Norm Quantiles", "Peptide Calculated MH", (-4.45, 4.12), (545, 5144), [-4, -2, 0, 2, 4],
      [1000, 2000, 3000, 4000, 5000], 6, 5.3)

# g
ax = make_ax((572, 779, 12, 193), "g", (542, 10))
curve(ax, g_obs, g_delta)
style(ax, "Peptide Observations", "Peptide Delta Mass", (-890, 25500), (-3.34, 5.25),
      [0, 5000, 10000, 15000, 20000, 25000], [-2, 0, 2, 4], 6.6, 7.5)

# h
ax = make_ax((573, 775, 255, 437), "h", (547, 253))
curve(ax, h_q, h_val)
dots(ax, h_end_q, h_end_val)
qqline(ax, h_line)
style(ax, "Norm Quantiles", "Peptide Delta Mass", (-4.35, 4.4), (-3.41, 5.36), [-4, -2, 0, 2, 4],
      [-2, 0, 2, 4], 3.7, 6.8)

# i
ax = make_ax((570, 776, 503, 681), "i", (538, 497))
df = pd.DataFrame(i_points, columns=["delta", "logp"])
dots(ax, df["delta"], df["logp"])
style(ax, "Peptide Delta Mass", r"Log$_{10}$ p-value", (-3.22, 5.36), (-11.94, -0.9), [-2, 0, 2, 4],
      [-10, -8, -6, -4, -2], 6.8, 6.8)

fig.savefig("out.png", dpi=100)
